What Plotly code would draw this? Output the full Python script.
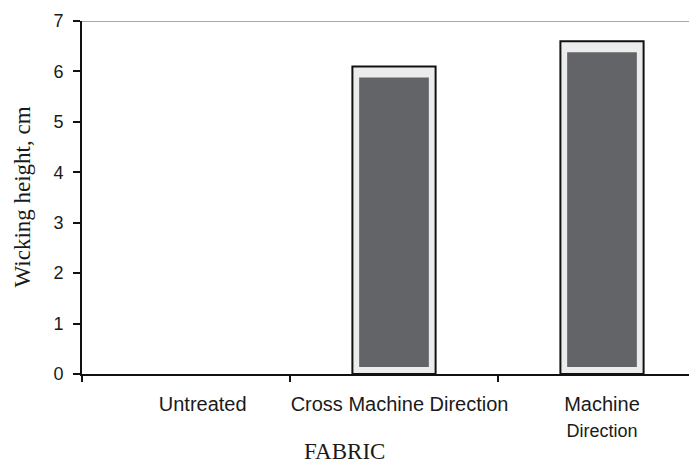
import plotly.graph_objects as go

categories = ["Untreated", "Cross Machine Direction", "Machine Direction"]
values = [0, 6.1, 6.6]
tick_text = ["\u00a0" * 6 + "Untreated",
             "\u00a0\u00a0Cross Machine Direction",
             "Machine<br><span style='font-size:18px'>Direction</span>"]
y_ticks = [0, 1, 2, 3, 4, 5, 6, 7]

# inner (dark) bar inset from the outlined frame
inset_top = 0.22
inset_base = 0.14
outer_vals = [v if v > 0 else None for v in values]
inner_vals = [(v - inset_top - inset_base) if v > 0 else None for v in values]

fig = go.Figure()
fig.add_trace(go.Bar(
    x=categories, y=outer_vals, width=0.4,
    marker=dict(color="#ececec", line=dict(color="#111111", width=2)),
    showlegend=False, hoverinfo="y",
))
fig.add_trace(go.Bar(
    x=categories, y=inner_vals, base=inset_base, width=0.335,
    marker=dict(color="#626467", line=dict(width=0)),
    showlegend=False, hoverinfo="skip",
))

# page body has an 8px margin; plot area: x 82..697, y 21..374 on screen
PW, PH = 689, 458
L, T, B = 74, 13, 92
plot_w = PW - L
plot_h = PH - T - B

fig.update_layout(
    width=PW, height=PH,
    margin=dict(l=L, r=0, t=T, b=B),
    paper_bgcolor="white", plot_bgcolor="white",
    barmode="overlay",
    font=dict(family="Liberation Sans, Arial, sans-serif", color="#1a1a1a"),
    xaxis=dict(
        type="category", range=[-0.5, -0.5 + plot_w / 208],
        tickmode="array", tickvals=categories, ticktext=tick_text,
        tickson="boundaries", ticks="outside", ticklen=6, tickwidth=1.5,
        tickcolor="#111111", tickangle=0, automargin=False,
        showline=True, linecolor="#111111", linewidth=2,
        showgrid=False, zeroline=False,
        tickfont=dict(size=20, family="Liberation Sans, Arial, sans-serif", color="#1a1a1a"),
        ticklabelstandoff=11,
    ),
    yaxis=dict(
        range=[0, 7], tickvals=y_ticks, automargin=False,
        ticks="outside", ticklen=7, tickwidth=1.5, tickcolor="#111111",
        showline=True, linecolor="#111111", linewidth=2,
        showgrid=False, zeroline=False,
        tickfont=dict(size=18, family="Liberation Sans, Arial, sans-serif", color="#1a1a1a"),
        ticklabelstandoff=6,
    ),
    shapes=[dict(type="line", xref="paper", yref="y", x0=0, x1=1, y0=7, y1=7,
                 line=dict(color="#8a8a8a", width=1.5))],
    annotations=[
        dict(text="Wicking height, cm", textangle=-90, xref="paper", yref="paper",
             x=(22 - 82) / plot_w, y=0.5, showarrow=False, xanchor="center", yanchor="middle",
             font=dict(family="Liberation Serif, Times New Roman, serif", size=23, color="#1a1a1a")),
        dict(text="FABRIC", xref="paper", yref="paper",
             x=(344 - 82) / plot_w, y=-(452 - 374) / plot_h, showarrow=False,
             xanchor="center", yanchor="middle",
             font=dict(family="Liberation Serif, Times New Roman, serif", size=23, color="#1a1a1a")),
    ],
)

fig.write_html("out.html")
